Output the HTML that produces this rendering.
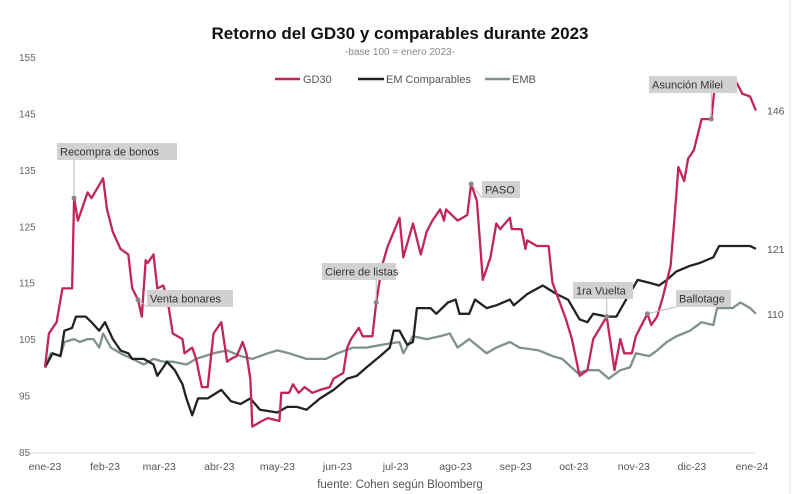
<!DOCTYPE html>
<html><head><meta charset="utf-8"><style>
body{margin:0;background:#fff;}
svg{display:block;font-family:"Liberation Sans",sans-serif;}
</style></head><body>
<svg id="chart" width="800" height="494" viewBox="0 0 800 494">
<rect x="0" y="0" width="800" height="494" fill="#fff"/>
<line x1="790" y1="0" x2="790" y2="494" stroke="#ddd"/>
<text x="400" y="39" text-anchor="middle" font-size="17" font-weight="bold" fill="#111">Retorno del GD30 y comparables durante 2023</text>
<text x="400" y="55" text-anchor="middle" font-size="10" fill="#888">-base 100 =  enero 2023-</text>
<g>
<g><line x1="275" y1="79" x2="300" y2="79" stroke="#c2255c" stroke-width="2.5"/><text x="303" y="83" font-size="11" fill="#555">GD30</text></g>
<g><line x1="358" y1="79" x2="384" y2="79" stroke="#222" stroke-width="2.5"/><text x="386" y="83" font-size="11" fill="#555">EM Comparables</text></g>
<g><line x1="485" y1="79" x2="510" y2="79" stroke="#7f918a" stroke-width="2.5"/><text x="512" y="83" font-size="11" fill="#555">EMB</text></g>
</g>
<g id="axes"></g>
<g id="series"></g>
<g id="annot"></g>
<text x="400" y="488" text-anchor="middle" font-size="11.5" fill="#555">fuente: Cohen según Bloomberg</text>
</svg>
<script>
const yTicks=[85,95,105,115,125,135,145,155];
const monthLabels=["ene-23","feb-23","mar-23","abr-23","may-23","jun-23","jul-23","ago-23","sep-23","oct-23","nov-23","dic-23","ene-24"];
const monthDays=[0,31,59,90,120,151,181,212,243,273,304,334,365];
const gd30Days=[0,2,6,9,14,15,17,22,24,30,32,35,39,43,45,48,50,52,53,56,58,61,63,66,71,72,76,78,81,84,87,91,94,96,99,102,104,106,107,112,115,121,122,126,128,131,134,138,142,147,149,154,156,158,162,164,169,171,174,177,180,183,185,190,194,197,200,204,206,207,213,218,220,223,226,230,233,235,240,241,246,248,249,254,260,262,269,272,276,280,283,290,294,297,299,303,305,311,313,316,319,323,325,327,330,332,335,339,344,346,357,360,364,367];
const gd30Values=[100,106,108,114,114,130,126,131,130,133.5,128,124,121,120,114,112,109,119,118.5,120,114,114.5,112.5,106,105,102.5,103.5,101.5,96.5,96.5,106,108,101,101.5,102,104.5,102.5,98,89.5,90.5,91,90.5,95.5,95.5,97,95.5,96.5,95.5,96,96.5,98,99,103.5,105,107,105.5,105.5,111.5,118,121.5,124,126.5,119.5,125.5,120,124,126,128,126,128,126,127,132.5,129.5,115.5,119.5,125.5,124.5,126.5,124.5,124.5,121,122.5,121.5,121.5,115,108.5,105,98.5,99.5,105,109,99.5,105,102.5,102.5,105.5,109.5,107.5,109,112.5,118,126.5,135.5,133,137,138.5,144,144,150.5,150.5,148.5,148,145.5];
const emDays=[0,4,8,10,14,16,21,24,28,31,35,39,43,45,51,56,58,61,63,67,71,73,76,79,84,91,96,101,106,111,120,125,130,135,142,149,156,161,166,173,178,180,183,187,190,192,199,202,208,212,214,219,222,228,233,240,242,249,257,264,270,276,280,283,290,295,300,306,312,317,321,326,333,338,345,348,359,364,367];
const emValues=[100,102.5,102,106.5,107,109,109,108,106.5,108,105,103,102.5,101.5,101.5,100.5,98.5,100,101,99.5,97,94.5,91.5,94.5,94.5,96,94,93.5,94.5,92.5,92,93,93,92.5,94.5,96,98,98.5,100,102,103.5,106.5,106.5,104,104.5,110.5,110.5,109.5,111.5,112,109.5,109.5,112,110.5,111,112,111,113,114.5,113,112,108.5,108,109.5,109,109,112,115.5,115,114.5,115.5,117,118,118.5,119.5,121.5,121.5,121.5,121];
const embDays=[0,3,8,10,15,18,22,25,28,30,34,39,45,51,56,61,66,73,78,87,94,101,107,115,120,126,135,145,151,159,166,174,183,185,190,197,204,209,213,219,228,233,240,245,255,262,267,275,280,286,291,297,302,305,312,316,321,326,333,339,345,347,355,359,364,367];
const embValues=[100,102.5,102,104.5,105,104.5,105,105,103.5,106,103.5,102.5,101.5,100.5,101.5,101,101,100.5,101.5,102.5,103,102,101.5,102.5,103,102.5,101.5,101.5,102.5,103.5,103.5,104,104.5,102.5,105.5,105,105.5,106,103.5,105,102.5,103.5,104.5,103.5,103,102,101.5,99,99.5,99.5,98,99.5,100,102.5,102,103,104.5,105.5,106.5,108,107.5,110.5,110.5,111.5,110.5,109.5];
const annotations=[
 {label:"Recompra de bonos",s:"gd30",day:15,bx:57,by:143,bw:120},
 {label:"Venta bonares",s:"gd30",day:48,bx:147,by:290,bw:86},
 {label:"Cierre de listas",s:"gd30",day:171,bx:322,by:263,bw:74},
 {label:"PASO",s:"gd30",day:220,bx:482,by:181,bw:38},
 {label:"1ra Vuelta",s:"gd30",day:290,bx:573,by:282,bw:60},
 {label:"Ballotage",s:"gd30",day:311,bx:676,by:290,bw:55},
 {label:"Asunción Milei",s:"gd30",day:344,bx:649,by:76,bw:88}
];
const NS="http://www.w3.org/2000/svg";
const X0=45,X1=752,Y0=452,Y1=57;
function xs(d){return X0+(d/365)*(X1-X0);}
function ys(v){return Y0-(v-85)/(155-85)*(Y0-Y1);}
function mk(tag,attrs,parent){const e=document.createElementNS(NS,tag);for(const k in attrs)e.setAttribute(k,attrs[k]);parent.appendChild(e);return e;}
const axes=document.getElementById('axes');
const base=mk('line',{x1:30,y1:Y0+1,x2:755,y2:Y0+1,stroke:'#ddd'},axes);


yTicks.forEach(v=>{const t=mk('text',{x:19,y:ys(v)+4,'font-size':10,fill:'#666'},axes);t.textContent=v;

});
monthLabels.forEach((m,i)=>{const t=mk('text',{x:xs(monthDays[i]),y:470,'font-size':10.5,fill:'#555','text-anchor':'middle'},axes);t.textContent=m;

});
const series=document.getElementById('series');
function drawLine(days,vals,color,name){const p=mk('polyline',{points:days.map((d,i)=>xs(d).toFixed(1)+','+ys(vals[i]).toFixed(1)).join(' '),fill:'none',stroke:color,'stroke-width':2.3,'stroke-linejoin':'round'},series);

}
drawLine(embDays,embValues,'#7f918a','series-emb');
drawLine(emDays,emValues,'#222','series-em-comparables');
drawLine(gd30Days,gd30Values,'#c2255c','series-gd30');
function endLabel(days,vals,name){const t=mk('text',{x:767,y:ys(vals[vals.length-1])+4,'font-size':10.5,fill:'#555'},series);t.textContent=Math.round(vals[vals.length-1]);

}
endLabel(gd30Days,gd30Values,'end-label-gd30');
endLabel(emDays,emValues,'end-label-em');
endLabel(embDays,embValues,'end-label-emb');
const an=document.getElementById('annot');
annotations.forEach(a=>{const i=gd30Days.indexOf(a.day);const px=xs(a.day),py=ys(gd30Values[i]);
const g=mk('g',{},an);


const cx=Math.max(a.bx,Math.min(a.bx+a.bw,px)),cy=py<a.by?a.by:a.by+17;
mk('line',{x1:px,y1:py,x2:cx,y2:cy,stroke:'#bbb','stroke-width':1},g);
mk('rect',{x:a.bx,y:a.by,width:a.bw,height:17,fill:'#d3d0d0'},g);
const t=mk('text',{x:a.bx+3,y:a.by+12.5,'font-size':11,fill:'#333'},g);t.textContent=a.label;
mk('circle',{cx:px,cy:py,r:2.5,fill:'#888'},g);});
</script>
</body></html>
